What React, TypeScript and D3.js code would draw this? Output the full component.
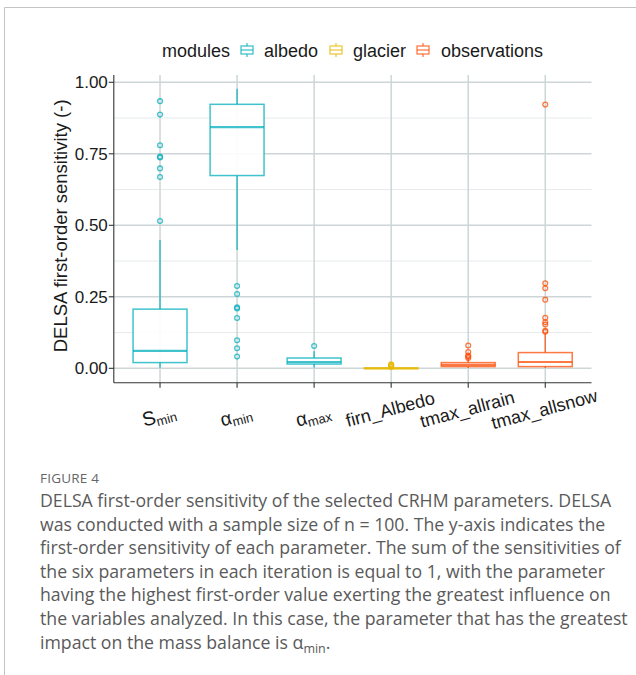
import * as d3 from "d3";
import React from "react";

// parameters on the x axis
const categories = ["S_min", "alpha_min", "alpha_max", "firn_Albedo", "tmax_allrain", "tmax_allsnow"];
const moduleOf = ["albedo", "albedo", "albedo", "glacier", "observations", "observations"];

// box statistics
const q1 = [0.02, 0.674, 0.015, 0.0, 0.006, 0.006];
const median = [0.061, 0.843, 0.022, 0.0, 0.012, 0.022];
const q3 = [0.207, 0.923, 0.036, 0.001, 0.02, 0.055];
const whiskerLow = [0.002, 0.414, 0.003, 0.0, 0.001, 0.001];
const whiskerHigh = [0.449, 0.977, 0.06, 0.002, 0.035, 0.12];
const outliers = [
  [0.934, 0.887, 0.78, 0.74, 0.737, 0.699, 0.669, 0.515],
  [0.288, 0.26, 0.213, 0.209, 0.176, 0.098, 0.07, 0.041],
  [0.078],
  [0.005, 0.009, 0.012, 0.014],
  [0.08, 0.057, 0.045, 0.041, 0.036],
  [0.922, 0.297, 0.28, 0.24, 0.177, 0.161, 0.153, 0.131, 0.128],
];

const modules = ["albedo", "glacier", "observations"];
const moduleColors = ["#00AFBB", "#E7B800", "#FC4E07"];
const yTicks = [0, 0.25, 0.5, 0.75, 1];
const yMinor = [0.125, 0.375, 0.625, 0.875];

const captionLines = [
  "DELSA first-order sensitivity of the selected CRHM parameters. DELSA",
  "was conducted with a sample size of n = 100. The y-axis indicates the",
  "first-order sensitivity of each parameter. The sum of the sensitivities of",
  "the six parameters in each iteration is equal to 1, with the parameter",
  "having the highest first-order value exerting the greatest influence on",
  "the variables analyzed. In this case, the parameter that has the greatest",
];

const FONT = "'Liberation Sans', Arial, sans-serif";
const CAPTION_FONT = "'Open Sans', Lato, sans-serif";

const color = d3.scaleOrdinal<string, string>().domain(modules).range(moduleColors);

const TickLabel = ({ name }: { name: string }) => {
  if (name === "S_min")
    return (
      <>
        <tspan fontSize={20}>S</tspan>
        <tspan fontSize={13} dy={3}>min</tspan>
      </>
    );
  if (name === "alpha_min")
    return (
      <>
        <tspan fontSize={19}>α</tspan>
        <tspan fontSize={13} dy={3}>min</tspan>
      </>
    );
  if (name === "alpha_max")
    return (
      <>
        <tspan fontSize={19}>α</tspan>
        <tspan fontSize={13} dy={3}>max</tspan>
      </>
    );
  return <tspan>{name}</tspan>;
};

const LegendKey = ({ x, y, c }: { x: number; y: number; c: string }) => (
  <g stroke={c} strokeOpacity={0.75} fill="white" strokeWidth={1.3}>
    <line x1={x} x2={x} y1={y - 7} y2={y + 7} />
    <rect x={x - 6} y={y - 4} width={12} height={8} />
    <line x1={x - 6} x2={x + 6} y1={y} y2={y} />
  </g>
);

export default function App() {
  const left = 113.8;
  const right = 591.5;
  const top = 75;
  const bottom = 382.7;

  const x = d3.scaleLinear().domain([0.4, categories.length + 0.6]).range([left, right]);
  const y = d3.scaleLinear().domain([-0.0503, 1.0255]).range([bottom, top]);
  const boxW = x(1.35) - x(0.65);

  return (
    <svg width={636} height={675} style={{ position: "absolute", left: 0, top: 0 }}>
      <rect width={636} height={675} fill="white" />
      {/* card border */}
      <line x1={4.5} x2={636} y1={7.5} y2={7.5} stroke="#c4c4c4" />
      <line x1={4.5} x2={4.5} y1={7.5} y2={675} stroke="#c4c4c4" />

      {/* legend */}
      <g fontFamily={FONT} fontSize={18} fill="#1a1a1a">
        <text x={162} y={57}>modules</text>
        <LegendKey x={247} y={50} c={color("albedo")} />
        <text x={264} y={57}>albedo</text>
        <LegendKey x={336} y={50} c={color("glacier")} />
        <text x={353} y={57}>glacier</text>
        <LegendKey x={423} y={50} c={color("observations")} />
        <text x={441} y={57}>observations</text>
      </g>

      {/* grid */}
      <g>
        {yMinor.map((v) => (
          <line key={"mn" + v} x1={left} x2={right} y1={y(v)} y2={y(v)} stroke="#e6ebeb" strokeWidth={1} />
        ))}
        {yTicks.map((v) => (
          <line key={"mj" + v} x1={left} x2={right} y1={y(v)} y2={y(v)} stroke="#cdd6d6" strokeWidth={1.5} />
        ))}
        {categories.map((c, i) => (
          <line key={"v" + c} x1={x(i + 1)} x2={x(i + 1)} y1={top} y2={bottom} stroke="#cdd6d6" strokeWidth={1.5} />
        ))}
      </g>

      {/* boxes */}
      {categories.map((c, i) => {
        const cx = x(i + 1);
        const col = color(moduleOf[i]);
        return (
          <g key={c} stroke={col} strokeOpacity={0.75} fill="none">
            <line x1={cx} x2={cx} y1={y(q3[i])} y2={y(whiskerHigh[i])} strokeWidth={1.5} />
            <line x1={cx} x2={cx} y1={y(q1[i])} y2={y(whiskerLow[i])} strokeWidth={1.5} />
            <rect
              x={cx - boxW / 2}
              y={y(q3[i])}
              width={boxW}
              height={Math.max(y(q1[i]) - y(q3[i]), 0.5)}
              fill="white"
              fillOpacity={0.9}
              strokeWidth={1.5}
            />
            <line x1={cx - boxW / 2} x2={cx + boxW / 2} y1={y(median[i])} y2={y(median[i])} strokeWidth={2.2} />
            {outliers[i].map((o, j) => (
              <circle key={j} cx={cx} cy={y(o)} r={2.4} strokeWidth={1.3} />
            ))}
          </g>
        );
      })}

      {/* axes */}
      <g stroke="#333" strokeWidth={1.1}>
        <line x1={left} x2={left} y1={top} y2={bottom} />
        <line x1={left} x2={right} y1={bottom} y2={bottom} />
        {yTicks.map((v) => (
          <line key={v} x1={left - 5} x2={left} y1={y(v)} y2={y(v)} />
        ))}
        {categories.map((c, i) => (
          <line key={c} x1={x(i + 1)} x2={x(i + 1)} y1={bottom} y2={bottom + 5} />
        ))}
      </g>
      <g fontFamily={FONT} fontSize={17} fill="#1a1a1a">
        {yTicks.map((v) => (
          <text key={v} x={left - 6} y={y(v)} dy="0.36em" textAnchor="end">
            {d3.format(".2f")(v)}
          </text>
        ))}
        {categories.map((c, i) => {
          const math = i < 3;
          return (
            <text
              key={c}
              transform={`translate(${x(i + 1) - 1},${math ? 416 : 409}) rotate(-15)`}
              textAnchor="middle"
              dy="0.36em"
              fontSize={18}
            >
              <TickLabel name={c} />
            </text>
          );
        })}
        <text transform={`translate(67,${(top + bottom) / 2 - 3}) rotate(-90)`} textAnchor="middle" fontSize={18.5}>
          DELSA first-order sensitivity (-)
        </text>
      </g>

      {/* caption */}
      <g fontFamily={CAPTION_FONT} fill="#5a5a5a">
        <text x={40} y={483} fontSize={13.5} fill="#666" letterSpacing={0.2}>FIGURE 4</text>
        {captionLines.map((l, i) => (
          <text key={i} x={40} y={507 + i * 23.6} fontSize={17.7}>
            {l}
          </text>
        ))}
        <text x={40} y={507 + 6 * 23.6} fontSize={17.7}>
          impact on the mass balance is α<tspan fontSize={12.5} dy={4}>min</tspan>
          <tspan dy={-4}>.</tspan>
        </text>
      </g>
    </svg>
  );
}
